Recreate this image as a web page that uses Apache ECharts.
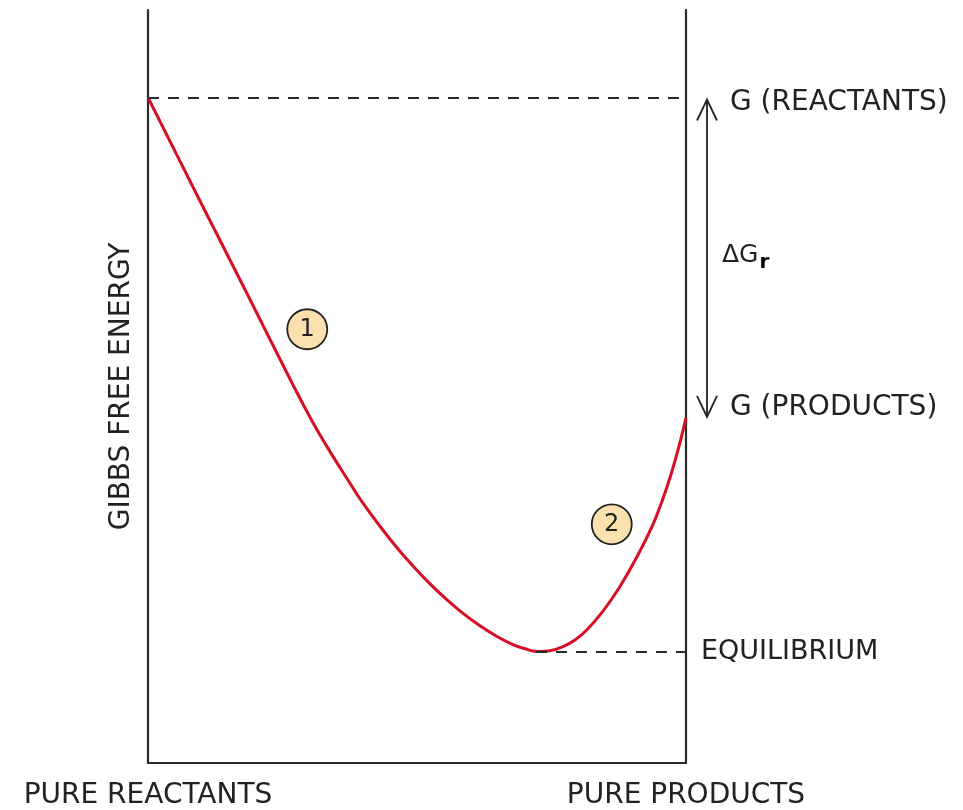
<!DOCTYPE html>
<html><head><meta charset="utf-8">
<script src="https://cdn.jsdelivr.net/npm/echarts@6/dist/echarts.min.js"></script>
<style>html,body{margin:0;padding:0;background:#fff}#c{width:963px;height:810px}</style>
</head><body><div id="c"></div>
<script>
// reaction progress (0 = pure reactants, 100 = pure products)
const progress = [0, 9.29, 18.59, 26.39, 30.67, 33.83, 36.99, 39.96, 43.12, 46.28, 49.26, 52.42, 55.58, 58.55, 61.71, 64.87, 67.84, 70.07, 72.12, 74.72, 77.14, 79.37, 81.60, 84.57, 87.73, 90.89, 93.87, 95.54, 97.21, 98.70, 100];
// Gibbs free energy (arbitrary units)
const gibbs = [88.38, 75.17, 62.09, 50.99, 45.18, 41.35, 37.78, 34.50, 31.44, 28.59, 26.16, 23.78, 21.66, 19.87, 18.23, 16.80, 15.72, 15.17, 14.80, 14.90, 15.46, 16.34, 17.70, 20.17, 23.45, 27.38, 31.70, 34.76, 38.31, 42.07, 45.84];
const endLabels = ['PURE REACTANTS', 'PURE PRODUCTS'];
const yName = 'GIBBS FREE ENERGY';
const gReactants = 88.38;
const gProducts = 45.84;
const eqProgress = 72.12;
const eqG = 14.80;
const stageLabels = ['1', '2'];
const stageX = [29.6, 86.2];
const stageY = [57.6, 31.7];
const rightLabels = ['G (REACTANTS)', 'G (PRODUCTS)', 'EQUILIBRIUM'];

(function () {
const FONT = 'DejaVu Sans';
const INK = '#222';
const chart = echarts.init(document.getElementById('c'), null, {renderer: 'canvas'});
const axisLine = {show: true, onZero: false, lineStyle: {color: '#2a2a2a', width: 2.2}};

chart.setOption({
  animation: false,
  backgroundColor: '#fff',
  grid: {left: 148, right: 277, top: 10, bottom: 43},
  xAxis: {
    type: 'value', min: 0, max: 100, interval: 100,
    axisLine: axisLine, axisTick: {show: false}, splitLine: {show: false},
    axisLabel: {
      margin: 19, fontSize: 28, color: INK, fontFamily: FONT,
      formatter: v => v === 0 ? endLabels[0] : (v === 100 ? endLabels[1] : '')
    }
  },
  yAxis: [
    {type: 'value', min: 0, max: 100, position: 'left', axisLine: axisLine,
     axisTick: {show: false}, axisLabel: {show: false}, splitLine: {show: false},
     name: yName, nameLocation: 'middle', nameGap: 12,
     nameTextStyle: {fontSize: 28, color: INK, fontFamily: FONT}},
    {type: 'value', min: 0, max: 100, position: 'right', axisLine: axisLine,
     axisTick: {show: false}, axisLabel: {show: false}, splitLine: {show: false}}
  ],
  series: [
    {
      type: 'line', data: progress.map((x, i) => [x, gibbs[i]]),
      smooth: 0.33, showSymbol: false, symbol: 'none',
      lineStyle: {color: '#d50f25', width: 3}, z: 3,
      markLine: {
        silent: true, symbol: 'none', label: {show: false},
        lineStyle: {color: '#2a2a2a', width: 2, type: [11, 9]},
        data: [
          [{coord: [0, gReactants]}, {coord: [100, gReactants]}],
          [{coord: [eqProgress, eqG]}, {coord: [100, eqG]}]
        ]
      }
    },
    {
      type: 'scatter', data: stageX.map((x, i) => [x, stageY[i]]),
      symbolSize: 40, z: 4,
      itemStyle: {color: '#fbe1ad', borderColor: INK, borderWidth: 1.8, opacity: 1},
      label: {show: true, position: 'inside', fontSize: 24, color: INK, fontFamily: FONT,
              formatter: p => stageLabels[p.dataIndex]}
    }
  ]
});

const rightPx = chart.convertToPixel({gridIndex: 0}, [100, 0])[0];
const yR = chart.convertToPixel({gridIndex: 0}, [100, gReactants])[1];
const yP = chart.convertToPixel({gridIndex: 0}, [100, gProducts])[1];
const yE = chart.convertToPixel({gridIndex: 0}, [100, eqG])[1];
const ax = rightPx + 21;
const tipTop = yR + 2, tipBot = yP - 1;
const arrowStyle = {stroke: INK, lineWidth: 1.8, fill: null};
const txt = (x, y, s, fs) => ({type: 'text', x: x, y: y,
  style: {text: s, fontSize: fs, fontFamily: FONT, fill: INK, verticalAlign: 'middle', align: 'left'}});

chart.setOption({
  graphic: [
    {type: 'polyline', shape: {points: [[ax, tipTop], [ax, tipBot]]}, style: arrowStyle},
    {type: 'polyline', shape: {points: [[ax - 10, tipTop + 21], [ax, tipTop], [ax + 10, tipTop + 21]]}, style: arrowStyle},
    {type: 'polyline', shape: {points: [[ax - 10, tipBot - 21], [ax, tipBot], [ax + 10, tipBot - 21]]}, style: arrowStyle},
    txt(rightPx + 44, yR + 5, rightLabels[0], 28),
    txt(rightPx + 44, yP - 10, rightLabels[1], 28),
    txt(rightPx + 15, yE, rightLabels[2], 27),
    {type: 'text', x: rightPx + 36, y: (yR + yP) / 2 - 2,
     style: {text: '{a|ΔG}{b|r}', verticalAlign: 'middle', align: 'left',
       rich: {a: {fontSize: 25, fontFamily: FONT, fill: INK, color: INK},
              b: {fontSize: 20, fontFamily: FONT, fontWeight: 'bold', color: INK, padding: [14, 0, 0, 1]}}}}
  ]
});
})();
</script></body></html>
